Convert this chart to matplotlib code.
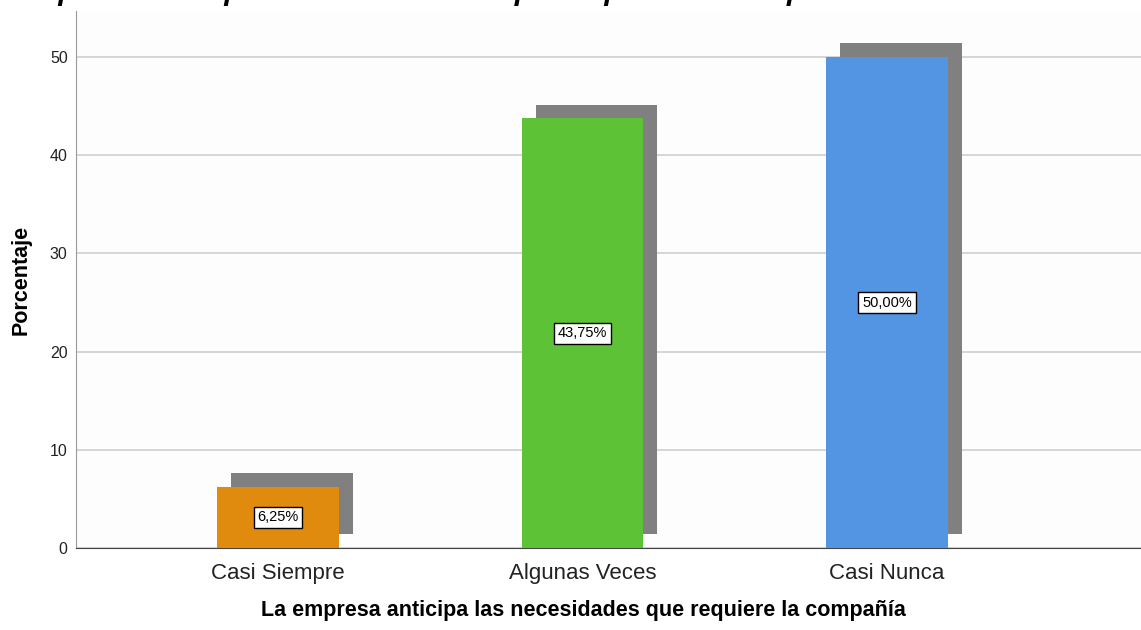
import matplotlib.pyplot as plt
import numpy as np

categories = ["Casi Siempre", "Algunas Veces", "Casi Nunca"]
porcentajes = [6.25, 43.75, 50.00]
etiquetas = ["6,25%", "43,75%", "50,00%"]
colores = ["#E08A0E", "#5DC236", "#5394E3"]
yticks = [0, 10, 20, 30, 40, 50]

titulo = "La empresa anticipa las necesidades que requiere la compañía"
xlabel = "La empresa anticipa las necesidades que requiere la compañía"
ylabel = "Porcentaje"

plt.rcParams['font.family'] = ['Liberation Sans', 'DejaVu Sans']

fig = plt.figure(figsize=(11.41, 6.30), dpi=100)
ax = fig.add_axes([76 / 1141, 82 / 630, 1065 / 1141, 537 / 630])
ax.set_facecolor("#FDFDFD")

x = np.arange(len(categories))
ancho = 0.4
# sombra desplazada arriba y a la derecha
ax.bar(x + 0.046, porcentajes, width=ancho, bottom=1.4, color="#808080", zorder=2)
ax.bar(x, porcentajes, width=ancho, color=colores, zorder=3)

for xi, v, t in zip(x, porcentajes, etiquetas):
    ax.text(xi, v / 2, t, ha="center", va="center", fontsize=10.5, zorder=4,
            bbox=dict(boxstyle="square,pad=0.25", fc="white", ec="black", lw=1.0))

ax.set_xlim(-0.663, 2.834)
ax.set_ylim(0, 54.7)
ax.set_yticks(yticks)
ax.set_xticks(x)
ax.set_xticklabels(categories, fontsize=16, color="#222222")
ax.tick_params(axis="y", length=0, pad=6, labelsize=11.5, labelcolor="#222222")
ax.tick_params(axis="x", length=0, pad=11)
ax.yaxis.grid(True, color="#CFCFCF", lw=1.2, zorder=0)
ax.set_axisbelow(True)

for s in ["top", "right"]:
    ax.spines[s].set_visible(False)
ax.spines["left"].set_color("#999999")
ax.spines["bottom"].set_color("#444444")

ax.set_xlabel(xlabel, fontsize=15.5, fontweight="bold")
ax.xaxis.set_label_coords(0.476, -0.097)
ax.set_ylabel(ylabel, fontsize=15.5, fontweight="bold", labelpad=13)

# titulo recortado en el borde superior
fig.text(418 / 1141, 1.0, titulo, ha="center", va="baseline",
         fontsize=21.5, fontweight="bold", fontstyle="italic")

fig.savefig("out.png", dpi=100)
